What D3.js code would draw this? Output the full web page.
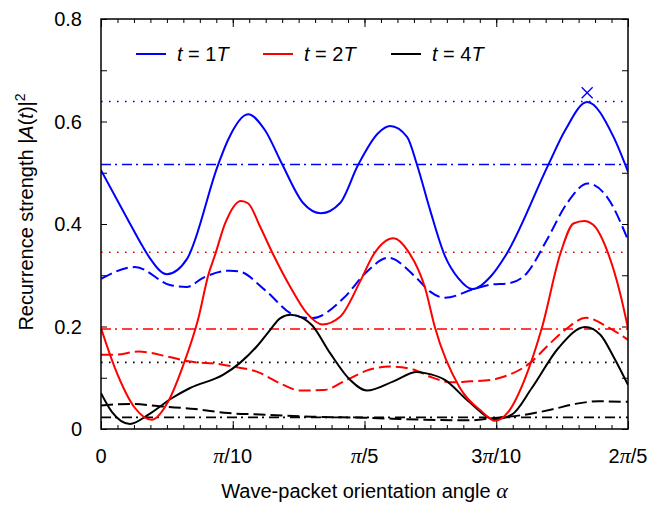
<!DOCTYPE html>
<html>
<head>
<meta charset="utf-8">
<script src="https://cdn.jsdelivr.net/npm/d3@7"></script>
<style>
  body { margin: 0; background: #fff; }
  text { font-family: "Liberation Sans", Arial, sans-serif; fill: #000; }
</style>
</head>
<body>
<svg id="chart" width="651" height="506"></svg>
<script>
// x values are in units of pi/10 (0 .. 4 => 0 .. 2pi/5)
const xTickValues = [0, 1, 2, 3, 4];
const xTickLabels = ["0", "π/10", "π/5", "3π/10", "2π/5"];
const yTickValues = [0, 0.1, 0.2, 0.3, 0.4, 0.5, 0.6, 0.7, 0.8];
const yTickLabels = ["0", "", "0.2", "", "0.4", "", "0.6", "", "0.8"];

// t = 1T
const blueSolid = [[0,0.505],[0.205,0.408],[0.319,0.355],[0.372,0.333],[0.50,0.302],[0.653,0.332],[0.888,0.515],
  [0.964,0.564],[1.116,0.614],[1.245,0.583],[1.374,0.517],[1.534,0.441],[1.670,0.421],[1.815,0.441],[1.951,0.515],
  [2.103,0.577],[2.194,0.591],[2.323,0.570],[2.399,0.515],[2.498,0.427],[2.61,0.338],[2.713,0.294],[2.82,0.273],
  [2.966,0.300],[3.07,0.338],[3.394,0.515],[3.523,0.583],[3.69,0.638],[3.89,0.570],[4.0,0.502]];
const blueDashed = [[0,0.293],[0.258,0.316],[0.524,0.281],[0.65,0.277],[0.775,0.295],[0.98,0.309],[1.055,0.307],
  [1.245,0.271],[1.46,0.223],[1.60,0.216],[1.84,0.255],[2.018,0.307],[2.18,0.334],[2.397,0.294],[2.498,0.268],
  [2.61,0.256],[2.83,0.273],[2.966,0.282],[3.09,0.284],[3.232,0.304],[3.384,0.369],[3.536,0.440],[3.695,0.479],
  [3.84,0.453],[4.0,0.369]];
// t = 2T
const redSolid = [[0,0.197],[0.106,0.119],[0.258,0.041],[0.385,0.018],[0.511,0.054],[0.625,0.125],[0.739,0.216],
  [0.815,0.301],[0.866,0.34],[0.942,0.401],[1.063,0.445],[1.118,0.44],[1.207,0.395],[1.308,0.34],[1.435,0.278],
  [1.562,0.226],[1.68,0.204],[1.815,0.219],[1.967,0.288],[2.068,0.34],[2.22,0.372],[2.333,0.346],[2.46,0.275],
  [2.536,0.197],[2.72,0.082],[2.89,0.034],[2.99,0.016],[3.093,0.034],[3.219,0.099],[3.346,0.197],[3.49,0.345],
  [3.586,0.401],[3.667,0.406],[3.738,0.398],[3.84,0.349],[3.94,0.265],[4.0,0.197]];
const redDashed = [[0,0.145],[0.106,0.145],[0.283,0.151],[0.511,0.141],[0.663,0.132],[0.916,0.126],[1.0,0.122],
  [1.182,0.112],[1.384,0.086],[1.51,0.075],[1.69,0.076],[1.866,0.096],[2.04,0.116],[2.194,0.122],[2.37,0.116],
  [2.498,0.102],[2.663,0.091],[2.80,0.093],[2.966,0.096],[3.03,0.100],[3.257,0.129],[3.40,0.165],[3.53,0.195],
  [3.68,0.217],[3.84,0.2],[4.0,0.174]];
// t = 4T
const blackSolid = [[0,0.070],[0.081,0.034],[0.22,0.010],[0.36,0.028],[0.537,0.060],[0.676,0.080],[0.929,0.106],
  [1.055,0.129],[1.182,0.161],[1.283,0.193],[1.359,0.216],[1.44,0.223],[1.536,0.216],[1.60,0.203],[1.739,0.148],
  [1.89,0.096],[2.018,0.075],[2.22,0.093],[2.397,0.111],[2.46,0.109],[2.61,0.096],[2.789,0.054],[2.99,0.019],
  [3.118,0.028],[3.27,0.08],[3.472,0.158],[3.675,0.199],[3.79,0.184],[3.89,0.141],[4.0,0.086]];
const blackDashed = [[0,0.046],[0.233,0.049],[0.461,0.044],[0.714,0.039],[0.967,0.031],[1.245,0.028],[1.6,0.024],
  [2.0,0.022],[2.46,0.018],[2.8,0.017],[2.966,0.021],[3.219,0.028],[3.42,0.038],[3.6,0.049],[3.777,0.054],[4.0,0.053]];

// horizontal reference levels (dotted / dash-dot)
const refLevels = [0.639, 0.516, 0.345, 0.195, 0.130, 0.0226];
const marker = [3.69, 0.656];
const legendLabels = ["1", "2", "4"];

const BLUE = "#0000ff", RED = "#ff0000", BLACK = "#000000";
const DOT = "1.6,6.4", DASHDOT = "10,4,2,5", DASH = "12,5";

let svg = d3.select("#chart");
let margin = { left: 101, top: 19, right: 23, bottom: 77 };
let width = 651 - margin.left - margin.right;
let height = 506 - margin.top - margin.bottom;

let x = d3.scaleLinear().domain([0, 4]).range([0, width]);
let y = d3.scaleLinear().domain([0, 0.8]).range([height, 0]);

let g = svg.append("g").attr("transform", "translate(" + margin.left + "," + margin.top + ")");

svg.append("defs").append("clipPath").attr("id", "plot-clip")
    .append("rect").attr("width", width).attr("height", height);

// ticks, all pointing inward
let minorX = d3.range(0, 4.0001, 0.125);
let axes = [
    { a: d3.axisBottom(x).tickValues(minorX).tickSize(-4), t: [0, height] },
    { a: d3.axisTop(x).tickValues(minorX).tickSize(-4), t: [0, 0] },
    { a: d3.axisBottom(x).tickValues(xTickValues).tickSize(-8), t: [0, height] },
    { a: d3.axisTop(x).tickValues(xTickValues).tickSize(-8), t: [0, 0] },
    { a: d3.axisLeft(y).tickValues(yTickValues).tickSize(-6), t: [0, 0] },
    { a: d3.axisRight(y).tickValues(yTickValues).tickSize(-6), t: [width, 0] }
];
axes.forEach(function(ax) {
    let sel = g.append("g").attr("transform", "translate(" + ax.t[0] + "," + ax.t[1] + ")")
        .call(ax.a.tickFormat(""));
    sel.select(".domain").remove();
    sel.selectAll(".tick line").attr("stroke", "#000").attr("stroke-width", 1);
});

// x tick labels, pi set as a math glyph
xTickValues.forEach(function(v, i) {
    let txt = g.append("text")
        .attr("x", x(v))
        .attr("y", height + 34)
        .attr("text-anchor", "middle")
        .attr("font-size", 20);
    xTickLabels[i].split(/(π)/).forEach(function(part) {
        if (part === "") return;
        let ts = txt.append("tspan").text(part);
        if (part === "π") ts.attr("font-family", "Liberation Serif").attr("font-style", "italic").attr("font-size", 22);
    });
});

// y tick labels
yTickValues.forEach(function(v, i) {
    if (!yTickLabels[i]) return;
    g.append("text")
        .attr("x", -19)
        .attr("y", y(v) + 7)
        .attr("text-anchor", "end")
        .attr("font-size", 20)
        .text(yTickLabels[i]);
});

let plot = g.append("g").attr("clip-path", "url(#plot-clip)");

let refStyles = [[BLUE, DOT], [BLUE, DASHDOT], [RED, DOT], [RED, DASHDOT], [BLACK, DOT], [BLACK, DASHDOT]];
refLevels.forEach(function(v, i) {
    plot.append("line")
        .attr("x1", 0).attr("x2", width)
        .attr("y1", y(v)).attr("y2", y(v))
        .attr("stroke", refStyles[i][0])
        .attr("stroke-width", 1.6)
        .attr("stroke-dasharray", refStyles[i][1]);
});

let line = d3.line()
    .x(d => x(d[0]))
    .y(d => y(d[1]))
    .curve(d3.curveMonotoneX);

let series = [
    { data: blackDashed, color: BLACK, dash: DASH },
    { data: redDashed, color: RED, dash: DASH },
    { data: blueDashed, color: BLUE, dash: DASH },
    { data: blackSolid, color: BLACK, dash: null },
    { data: redSolid, color: RED, dash: null },
    { data: blueSolid, color: BLUE, dash: null }
];
series.forEach(function(s) {
    plot.append("path")
        .datum(s.data)
        .attr("d", line)
        .attr("fill", "none")
        .attr("stroke", s.color)
        .attr("stroke-width", 2)
        .attr("stroke-linejoin", "round")
        .attr("stroke-dasharray", s.dash);
});

// cross marker above the last 1T peak
let mx = x(marker[0]), my = y(marker[1]), ms = 5.5;
g.append("path")
    .attr("d", "M" + (mx - ms) + "," + (my - ms) + "L" + (mx + ms) + "," + (my + ms) +
               "M" + (mx - ms) + "," + (my + ms) + "L" + (mx + ms) + "," + (my - ms))
    .attr("stroke", BLUE)
    .attr("stroke-width", 1.4)
    .attr("fill", "none");

// frame
g.append("rect")
    .attr("width", width).attr("height", height)
    .attr("fill", "none").attr("stroke", "#000").attr("stroke-width", 1.5);

// legend
let legendColors = [BLUE, RED, BLACK];
let legendX = [35, 162, 290];
legendLabels.forEach(function(n, i) {
    let lg = g.append("g").attr("transform", "translate(" + legendX[i] + ",35)");
    lg.append("line").attr("x1", 0).attr("x2", 30).attr("y1", 0).attr("y2", 0)
        .attr("stroke", legendColors[i]).attr("stroke-width", 2);
    let t = lg.append("text").attr("x", 41).attr("y", 7).attr("font-size", 20);
    t.append("tspan").attr("font-style", "italic").text("t");
    t.append("tspan").text(" = " + n);
    t.append("tspan").attr("font-style", "italic").text("T");
});

// axis titles
let xt = svg.append("text")
    .attr("x", margin.left + width / 2)
    .attr("y", 498)
    .attr("text-anchor", "middle")
    .attr("font-size", 20);
xt.append("tspan").text("Wave-packet orientation angle ");
xt.append("tspan").attr("font-family", "Liberation Serif").attr("font-style", "italic").attr("font-size", 22).text("α");

let yt = svg.append("text")
    .attr("transform", "translate(33," + (margin.top + height / 2 - 12) + ") rotate(-90)")
    .attr("text-anchor", "middle")
    .attr("font-size", 20);
yt.append("tspan").text("Recurrence strength |");
yt.append("tspan").attr("font-style", "italic").text("A");
yt.append("tspan").text("(");
yt.append("tspan").attr("font-style", "italic").text("t");
yt.append("tspan").text(")|");
yt.append("tspan").attr("font-size", 14).attr("dy", -8).text("2");
</script>
</body>
</html>
